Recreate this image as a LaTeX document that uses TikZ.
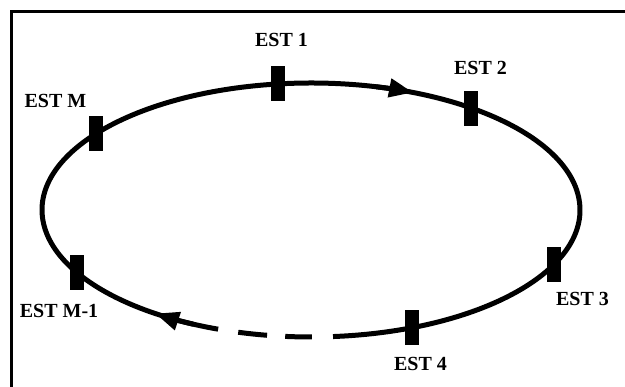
\documentclass[tikz,border=0pt]{standalone}
\usepackage{fontspec}
\setmainfont{Liberation Serif}
\usetikzlibrary{arrows.meta}
\begin{document}
\begin{tikzpicture}[x=1pt,y=1pt,
  ring/.style={line width=5pt},
  station/.style={draw=none,fill=black,minimum width=14pt,minimum height=35pt,inner sep=0pt},
  estlabel/.style={font=\fontsize{20}{24}\selectfont\bfseries,inner sep=0pt},
  flow/.style={ring,-{Triangle[length=24pt,width=18pt]}}]
\useasboundingbox (0,0) rectangle (625,387);
% open frame: only the left and top edges
\draw[line width=3pt] (11,0) -- (11,375.5) -- (625,375.5);
% ring centre and radii
\coordinate (c) at (311,177);
% solid part of the ring
\draw[ring] ([shift={(c)}]-85.3:269 and 127)
  arc[start angle=-85.3,end angle=249.8,x radius=269,y radius=127];
% dashed part at the bottom
\draw[ring] ([shift={(c)}]-105.7:269 and 127)
  arc[start angle=-105.7,end angle=-99.4,x radius=269,y radius=127];
\draw[ring] ([shift={(c)}]-95.5:269 and 127)
  arc[start angle=-95.5,end angle=-89.8,x radius=269,y radius=127];
% direction of travel
\draw[flow] ([shift={(c)}]76:269 and 127)
  arc[start angle=76,end angle=67.7,x radius=269,y radius=127];
\draw[flow] ([shift={(c)}]-116:269 and 127)
  arc[start angle=-116,end angle=-125.4,x radius=269,y radius=127];
% stations on the ring
\node[station] (m1) at ([shift={(c)}]97:269 and 127) {};
\node[station] (m2) at ([shift={(c)}]53.4:269 and 127) {};
\node[station] (m3) at ([shift={(c)}]-25.4:269 and 127) {};
\node[station] (m4) at ([shift={(c)}]-68:269 and 127) {};
\node[station] (mM1) at ([shift={(c)}]209.5:269 and 127) {};
\node[station] (mM) at ([shift={(c)}]143:269 and 127) {};
% station labels
\node[estlabel] (l1) at (281.5,347) {EST 1};
\node[estlabel] (l2) at (480.5,319) {EST 2};
\node[estlabel] (l3) at (582.5,88) {EST 3};
\node[estlabel] (l4) at (420.5,23.5) {EST 4};
\node[estlabel] (lM1) at (59,76) {EST M-1};
\node[estlabel] (lM) at (55.5,286) {EST M};
\end{tikzpicture}
\end{document}
